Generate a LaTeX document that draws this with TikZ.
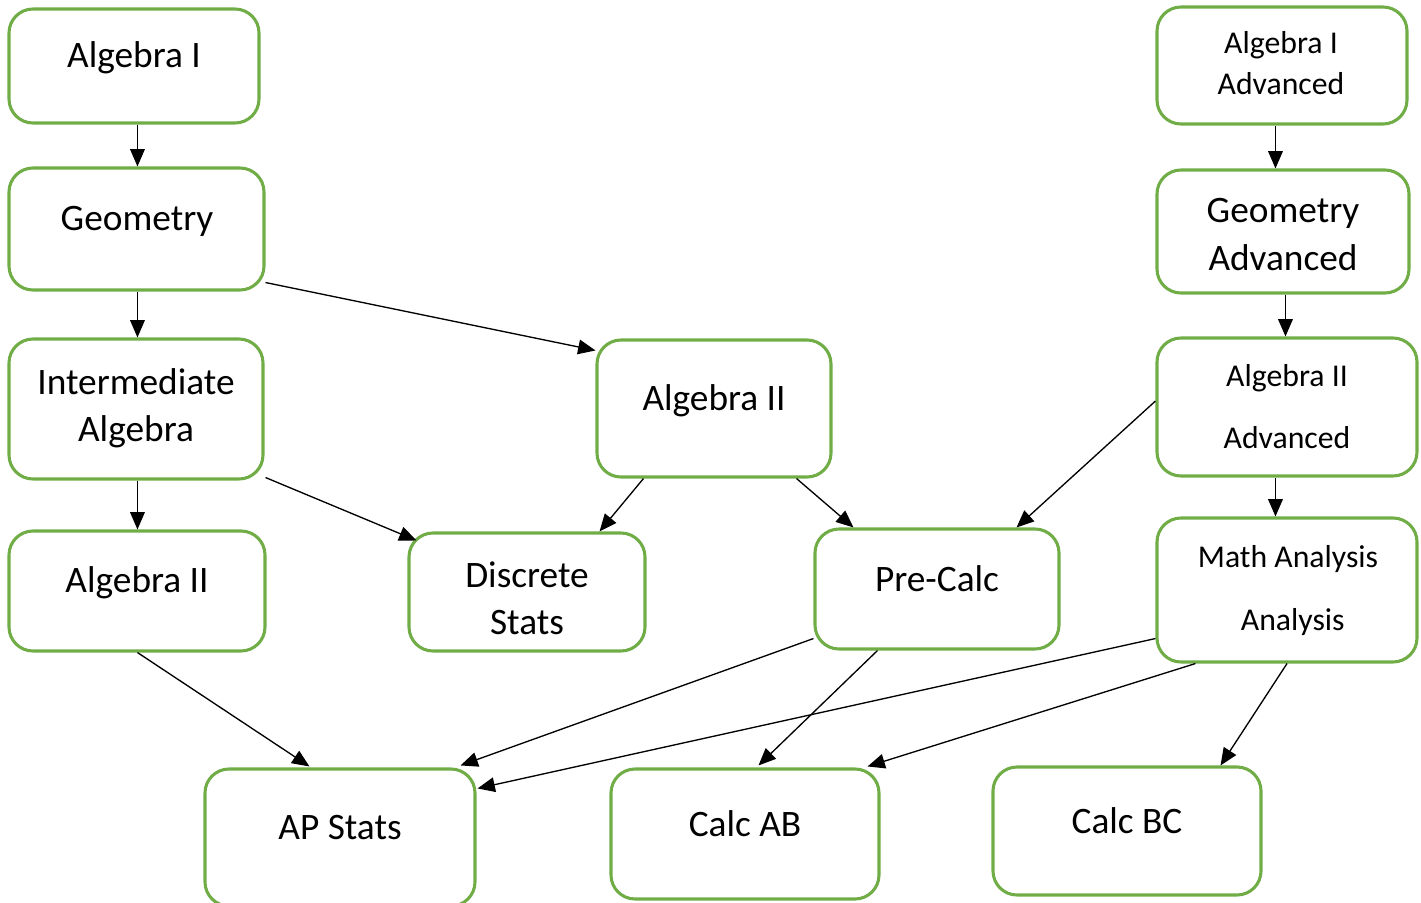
\documentclass[tikz,border=0pt]{standalone}
\usepackage{fontspec}
\setmainfont{Carlito}
\usetikzlibrary{calc,arrows.meta}
\newdimen\pxu \pxu=0.75pt
\definecolor{boxgreen}{HTML}{70AD47}
\tikzset{
  box/.style={draw=boxgreen, line width=2.3pt, rounded corners=18pt, fill=none, inner sep=0pt},
  arr/.style={draw=black, line width=1pt, -{Triangle[length=13pt,width=11pt]}},
  big/.style={font=\fontsize{28}{35.25}\selectfont, inner sep=0pt, align=center},
  small/.style={font=\fontsize{23.8}{30.75}\selectfont, inner sep=0pt, align=center},
}
\begin{document}
\begin{tikzpicture}[x=0.75pt,y=-0.75pt]
\useasboundingbox (0,0) rectangle (1421,903);
% boxes
\node[box, minimum width=250\pxu, minimum height=114\pxu] (a1) at (134,66) {};
\node[box, minimum width=255\pxu, minimum height=122\pxu] (geo) at (136.5,229) {};
\node[box, minimum width=254\pxu, minimum height=140\pxu] (inter) at (136,409) {};
\node[box, minimum width=256\pxu, minimum height=120\pxu] (a2l) at (137,591) {};
\node[box, minimum width=234\pxu, minimum height=137\pxu] (a2m) at (714,408.5) {};
\node[box, minimum width=236\pxu, minimum height=118\pxu] (disc) at (527,592) {};
\node[box, minimum width=244\pxu, minimum height=120\pxu] (pre) at (937,589) {};
\node[box, minimum width=270\pxu, minimum height=137\pxu] (aps) at (340,837.5) {};
\node[box, minimum width=268\pxu, minimum height=130\pxu] (cab) at (745,834) {};
\node[box, minimum width=268\pxu, minimum height=128\pxu] (cbc) at (1127,831) {};
\node[box, minimum width=250\pxu, minimum height=117\pxu] (a1a) at (1282,65.5) {};
\node[box, minimum width=252\pxu, minimum height=123\pxu] (geoa) at (1283,231.5) {};
\node[box, minimum width=260\pxu, minimum height=138\pxu] (a2a) at (1287,407) {};
\node[box, minimum width=260\pxu, minimum height=144\pxu] (ma) at (1287,590) {};
% texts
\node[big, anchor=base] (ta1) at (134,67) {Algebra I};
\node[big, anchor=base] (tgeo) at (137,230) {Geometry};
\node[big] (tinter) at (136,408.5) {Intermediate\\Algebra};
\node[big, anchor=base] (ta2l) at (137,592) {Algebra II};
\node[big, anchor=base] (ta2m) at (714,410) {Algebra II};
\node[big] (tdisc) at (527,598.5) {Discrete\\Stats};
\node[big, anchor=base] (tpre) at (937,591) {Pre-Calc};
\node[big, anchor=base] (taps) at (340,839) {AP Stats};
\node[big, anchor=base] (tcab) at (745,836) {Calc AB};
\node[big, anchor=base] (tcbc) at (1127,833) {Calc BC};
\node[small] (ta1a) at (1281,63.5) {Algebra I\\Advanced};
\node[big, font=\fontsize{28}{36}\selectfont] (tgeoa) at (1283,235) {Geometry\\Advanced};
\node[small, font=\fontsize{23.8}{46.5}\selectfont] (ta2a) at (1287,407) {Algebra II\\Advanced};
\node[small, font=\fontsize{23.8}{47.25}\selectfont] (tma) at (1288,590.5) {Math Analysis\\\hspace{0.3em}Analysis};
% connectors
\draw[arr] ($(a1.south west)+(130,0)$) -- ($(geo.north west)+(130,0)$);
\draw[arr] ($(geo.south west)+(130,0)$) -- ($(inter.north west)+(130,0)$);
\draw[arr] ($(inter.south west)+(130,0)$) -- ($(a2l.north west)+(130,0)$);
\draw[arr] ($(geo.south east)+(0,-9)$) -- ($(a2m.north west)+(0,12)$);
\draw[arr] ($(inter.south east)+(1,-3)$) -- ($(disc.north west)+(9,9)$);
\draw[arr] ($(a2m.south west)+(48,0)$) -- ($(disc.north east)+(-47,0)$);
\draw[arr] ($(a2m.south east)+(-36,0)$) -- ($(pre.north west)+(40,0)$);
\draw[arr] ($(a2a.west)+(0,-6)$) -- ($(pre.north east)+(-44,0)$);
\draw[arr] ($(a1a.south west)+(120,0)$) -- ($(geoa.north west)+(120,0)$);
\draw[arr] ($(geoa.south west)+(130,0)$) -- ($(a2a.north west)+(130,0)$);
\draw[arr] ($(a2a.south west)+(120,0)$) -- ($(ma.north west)+(120,0)$);
\draw[arr] ($(a2l.south west)+(130,0)$) -- ($(aps.north west)+(106,-1)$);
\draw[arr] ($(pre.south west)+(0,-12)$) -- ($(aps.north east)+(-16,-2)$);
\draw[arr] ($(ma.south west)+(0,-25)$) -- ($(aps.north east)+(1,21)$);
\draw[arr] ($(pre.south west)+(64,0)$) -- ($(cab.north west)+(149,-2)$);
\draw[arr] ($(ma.south west)+(40,0)$) -- ($(cab.north east)+(-13,-1)$);
\draw[arr] (ma.south) -- ($(cbc.north east)+(-42,0)$);
\end{tikzpicture}
\end{document}
